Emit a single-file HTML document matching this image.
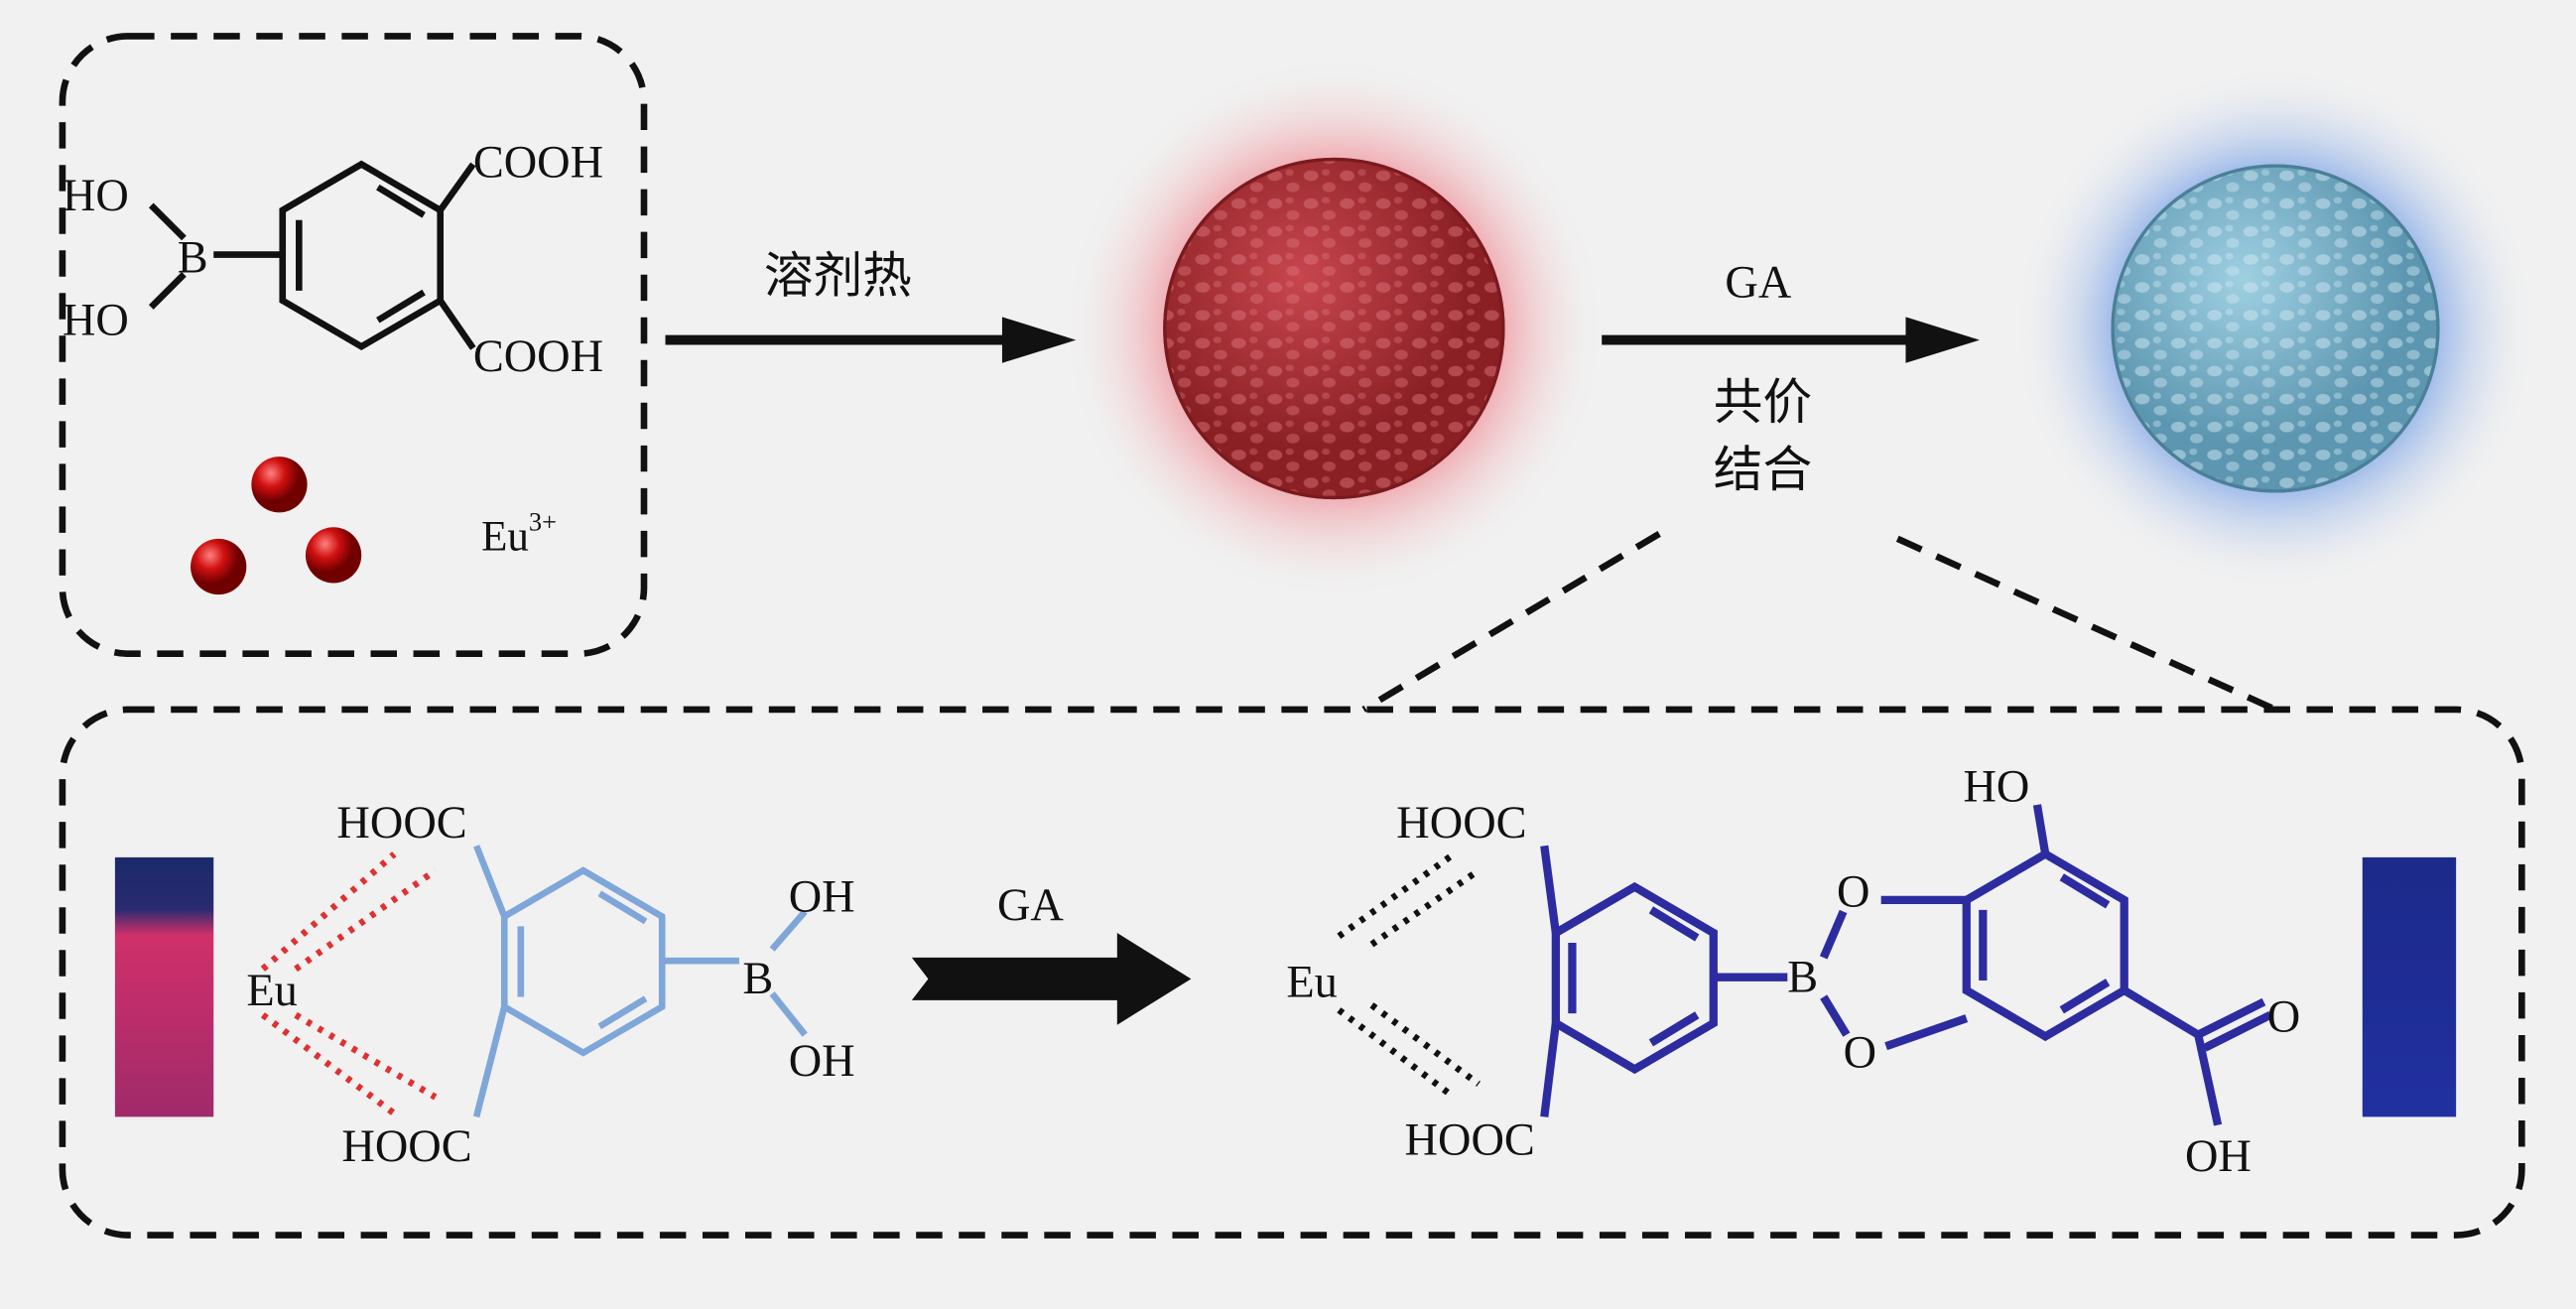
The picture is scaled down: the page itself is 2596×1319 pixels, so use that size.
<!DOCTYPE html>
<html><head><meta charset="utf-8"><style>
html,body{margin:0;padding:0;background:#f1f1f1;}
svg{display:block}
text{font-family:"Liberation Serif","Noto Serif CJK SC",serif;fill:#111}
.cj{font-family:"Liberation Sans","Noto Sans CJK SC",sans-serif}
</style></head><body>
<svg width="2596" height="1319" viewBox="0 0 1568 797" preserveAspectRatio="none" xmlns="http://www.w3.org/2000/svg">
<defs>
<radialGradient id="rglow"><stop offset="0.55" stop-color="#f07c86" stop-opacity="0.8"/><stop offset="1" stop-color="#f1f1f1" stop-opacity="0"/></radialGradient>
<radialGradient id="bglow"><stop offset="0.55" stop-color="#6f9be6" stop-opacity="0.85"/><stop offset="1" stop-color="#f1f1f1" stop-opacity="0"/></radialGradient>
<radialGradient id="rball" cx="0.4" cy="0.35"><stop offset="0" stop-color="#c8464e"/><stop offset="1" stop-color="#8a2024"/></radialGradient>
<radialGradient id="bball" cx="0.4" cy="0.35"><stop offset="0" stop-color="#9fd0e2"/><stop offset="1" stop-color="#5c96b0"/></radialGradient>
<radialGradient id="dot" cx="0.35" cy="0.3"><stop offset="0" stop-color="#ff8080"/><stop offset="0.5" stop-color="#d01010"/><stop offset="1" stop-color="#700000"/></radialGradient>
<linearGradient id="cuvL" x1="0" y1="0" x2="0" y2="1"><stop offset="0" stop-color="#1a2a6a"/><stop offset="0.2" stop-color="#2a2a70"/><stop offset="0.3" stop-color="#d0306a"/><stop offset="1" stop-color="#a02a6a"/></linearGradient>
<linearGradient id="cuvR" x1="0" y1="0" x2="0" y2="1"><stop offset="0" stop-color="#1c2a8a"/><stop offset="1" stop-color="#2030a0"/></linearGradient>
<pattern id="meshR" width="22" height="17" patternUnits="userSpaceOnUse"><ellipse cx="6" cy="5" rx="4.5" ry="3.2" fill="#e07a82" opacity="0.45"/><ellipse cx="17" cy="12" rx="4" ry="3" fill="#e07a82" opacity="0.4"/><ellipse cx="15" cy="3" rx="2.5" ry="2" fill="#e07a82" opacity="0.35"/></pattern>
<pattern id="meshB" width="22" height="17" patternUnits="userSpaceOnUse"><ellipse cx="6" cy="5" rx="4.5" ry="3.2" fill="#cfe8f2" opacity="0.5"/><ellipse cx="17" cy="12" rx="4" ry="3" fill="#cfe8f2" opacity="0.45"/><ellipse cx="15" cy="3" rx="2.5" ry="2" fill="#cfe8f2" opacity="0.4"/></pattern>
</defs>
<rect width="1568" height="797" fill="#f1f1f1"/>

<rect x="38" y="22" width="354" height="376" rx="40" fill="none" stroke="#111" stroke-width="4" stroke-dasharray="16,10"/>
<g stroke="#111" stroke-width="4" fill="none">
<polygon points="220,100 268,128 268,183 220,211 172,183 172,128"/>
<line x1="230" y1="114" x2="258" y2="131"/><line x1="258" y1="178" x2="230" y2="195"/><line x1="182" y1="134" x2="182" y2="177"/>
<line x1="172" y1="155" x2="130" y2="155"/>
<line x1="112" y1="145" x2="92" y2="125"/><line x1="112" y1="167" x2="92" y2="187"/>
<line x1="268" y1="128" x2="288" y2="100"/><line x1="268" y1="183" x2="288" y2="212"/>
</g>
<text x="108" y="166" font-size="28">B</text>
<text x="38" y="128" font-size="28">HO</text>
<text x="38" y="204" font-size="28">HO</text>
<text x="288" y="108" font-size="28">COOH</text>
<text x="288" y="226" font-size="28">COOH</text>
<circle cx="170" cy="295" r="17" fill="url(#dot)"/>
<circle cx="133" cy="345" r="17" fill="url(#dot)"/>
<circle cx="203" cy="338" r="17" fill="url(#dot)"/>
<text x="293" y="335" font-size="26">Eu<tspan font-size="16" dy="-12">3+</tspan></text>

<line x1="405" y1="207" x2="615" y2="207" stroke="#111" stroke-width="6"/>
<polygon points="610,193 655,207 610,221" fill="#111"/>
<text x="465" y="178" font-size="30" class="cj">溶剂热</text>

<circle cx="812" cy="200" r="165" fill="url(#rglow)"/>
<circle cx="812" cy="200" r="104" fill="url(#rball)"/>
<circle cx="812" cy="200" r="102" fill="url(#meshR)"/>
<circle cx="812" cy="200" r="103" fill="none" stroke="#7a1a1e" stroke-width="2"/>

<line x1="975" y1="207" x2="1165" y2="207" stroke="#111" stroke-width="6"/>
<polygon points="1160,193 1205,207 1160,221" fill="#111"/>
<text x="1050" y="181" font-size="28">GA</text>
<text x="1043" y="255" font-size="30" class="cj">共价</text>
<text x="1043" y="296" font-size="30" class="cj">结合</text>

<circle cx="1385" cy="200" r="160" fill="url(#bglow)"/>
<circle cx="1385" cy="200" r="100" fill="url(#bball)"/>
<circle cx="1385" cy="200" r="98" fill="url(#meshB)"/>
<circle cx="1385" cy="200" r="99" fill="none" stroke="#4a7f98" stroke-width="2"/>

<line x1="1010" y1="325" x2="830" y2="432" stroke="#111" stroke-width="4" stroke-dasharray="16,10"/>
<line x1="1155" y1="328" x2="1385" y2="432" stroke="#111" stroke-width="4" stroke-dasharray="16,10"/>

<rect x="38" y="432" width="1497" height="320" rx="40" fill="none" stroke="#111" stroke-width="4" stroke-dasharray="16,10"/>
<rect x="70" y="522" width="60" height="158" fill="url(#cuvL)"/>
<rect x="1438" y="522" width="57" height="158" fill="url(#cuvR)"/>

<g stroke="#7fa6d8" stroke-width="4" fill="none">
<polygon points="355,530 403,558 403,613 355,641 307,613 307,558"/>
<line x1="365" y1="544" x2="393" y2="561"/><line x1="393" y1="608" x2="365" y2="625"/><line x1="317" y1="564" x2="317" y2="607"/>
<line x1="307" y1="558" x2="290" y2="515"/><line x1="307" y1="613" x2="290" y2="680"/>
<line x1="403" y1="585" x2="450" y2="585"/>
<line x1="470" y1="578" x2="490" y2="555"/><line x1="470" y1="605" x2="490" y2="630"/>
</g>
<g stroke="#e03030" stroke-width="4" stroke-dasharray="3,5">
<line x1="160" y1="590" x2="240" y2="520"/><line x1="180" y1="590" x2="265" y2="530"/>
<line x1="160" y1="618" x2="240" y2="678"/><line x1="180" y1="618" x2="265" y2="668"/>
</g>
<text x="150" y="612" font-size="28">Eu</text>
<text x="205" y="510" font-size="28">HOOC</text>
<text x="208" y="707" font-size="28">HOOC</text>
<text x="452" y="605" font-size="28">B</text>
<text x="480" y="555" font-size="28">OH</text>
<text x="480" y="655" font-size="28">OH</text>

<polygon points="555,583 680,583 680,568 725,596 680,624 680,609 555,609 565,596" fill="#111"/>
<text x="607" y="560" font-size="28">GA</text>

<g stroke="#2c2ca0" stroke-width="5" fill="none">
<polygon points="995,540 1043,568 1043,623 995,651 947,623 947,568"/>
<line x1="1005" y1="554" x2="1033" y2="571"/><line x1="1033" y1="618" x2="1005" y2="635"/><line x1="957" y1="574" x2="957" y2="617"/>
<line x1="947" y1="568" x2="940" y2="515"/><line x1="947" y1="623" x2="940" y2="680"/>
<line x1="1043" y1="595" x2="1088" y2="595"/>
<line x1="1110" y1="583" x2="1122" y2="555"/><line x1="1110" y1="607" x2="1124" y2="630"/>
<line x1="1145" y1="548" x2="1197" y2="548"/><line x1="1148" y1="637" x2="1197" y2="620"/>
<polygon points="1245,520 1293,548 1293,603 1245,631 1197,603 1197,548"/>
<line x1="1255" y1="534" x2="1283" y2="551"/><line x1="1283" y1="598" x2="1255" y2="615"/><line x1="1207" y1="554" x2="1207" y2="597"/>
<line x1="1245" y1="520" x2="1240" y2="490"/>
<line x1="1293" y1="603" x2="1338" y2="630"/>
<line x1="1338" y1="630" x2="1378" y2="610"/><line x1="1342" y1="638" x2="1382" y2="618"/>
<line x1="1338" y1="630" x2="1350" y2="685"/>
</g>
<g stroke="#111" stroke-width="4" stroke-dasharray="3,5">
<line x1="815" y1="570" x2="885" y2="520"/><line x1="835" y1="575" x2="900" y2="530"/>
<line x1="815" y1="615" x2="885" y2="668"/><line x1="835" y1="612" x2="900" y2="660"/>
</g>
<text x="783" y="607" font-size="28">Eu</text>
<text x="850" y="510" font-size="28">HOOC</text>
<text x="855" y="703" font-size="28">HOOC</text>
<text x="1088" y="604" font-size="28">B</text>
<text x="1118" y="552" font-size="28">O</text>
<text x="1122" y="650" font-size="28">O</text>
<text x="1195" y="488" font-size="28">HO</text>
<text x="1380" y="628" font-size="28">O</text>
<text x="1330" y="713" font-size="28">OH</text>
</svg>
</body></html>
